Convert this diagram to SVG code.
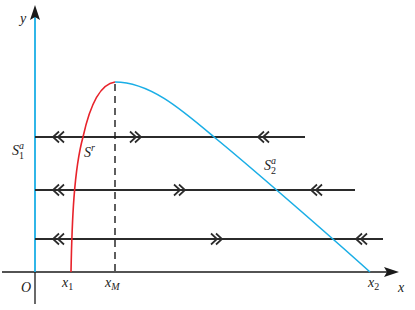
<svg xmlns="http://www.w3.org/2000/svg" width="415" height="310" viewBox="0 0 415 310">
<style>
.ax{stroke:#1a1a1a;stroke-width:1.3;fill:none}
.fl{stroke:#2b2b2b;stroke-width:2;fill:none}
.ch{stroke:#2b2b2b;stroke-width:1.7;fill:none}
.blue{stroke:#1aaee6;stroke-width:1.6;fill:none}
.red{stroke:#e8232b;stroke-width:1.6;fill:none}
.dash{stroke:#1a1a1a;stroke-width:1.4;stroke-dasharray:7,5;fill:none}
.t{font-family:"Liberation Serif",serif;font-style:italic;font-size:14px;fill:#222}
.s{font-size:10px}
</style>
<defs>
<symbol id="cl" overflow="visible"><path class="ch" d="M6,-5.5 L0,0 L6,5.5 M11,-5.5 L5,0 L11,5.5"/></symbol>
<symbol id="cr" overflow="visible"><path class="ch" d="M-6,-5.5 L0,0 L-6,5.5 M-11,-5.5 L-5,0 L-11,5.5"/></symbol>
</defs>
<g id="axes">
<line class="ax" x1="2" y1="272" x2="390" y2="272"/>
<path d="M399,272 L384,267 L387,272 L384,277 Z" fill="#1a1a1a"/>
<line class="ax" x1="35" y1="272" x2="35" y2="304"/>
<line x1="35" y1="272" x2="35" y2="15" stroke="#1aaee6" stroke-width="1.8"/>
<path d="M35,5 L30,20 L35,17 L40,20 Z" fill="#1a1a1a"/>
</g>
<g id="connectors">
<line class="fl" x1="35" y1="137" x2="305" y2="137"/>
<line class="fl" x1="35" y1="190" x2="355" y2="190"/>
<line class="fl" x1="35" y1="239" x2="383" y2="239"/>
<use href="#cl" x="53" y="137"/>
<use href="#cr" x="141" y="137"/>
<use href="#cl" x="258" y="137"/>
<use href="#cl" x="53" y="190"/>
<use href="#cr" x="185" y="190"/>
<use href="#cl" x="311" y="190"/>
<use href="#cl" x="53" y="239"/>
<use href="#cr" x="222" y="239"/>
<use href="#cl" x="356" y="239"/>
</g>
<g id="curves">
<line class="dash" x1="115" y1="84" x2="115" y2="272"/>
<path class="red" d="M71,272 C72,220 74,170 83,137 C90,105 100,84 115,82"/>
<path class="blue" d="M115,82 C150,82 182,110 214,137 C246,163 330,236 370,272"/>
</g>
<g id="labels">
<text class="t" x="20" y="23">y</text>
<text class="t" x="21" y="292">O</text>
<text class="t" x="62" y="287">x<tspan class="s" dy="3" font-style="normal">1</tspan></text>
<text class="t" x="105" y="287">x<tspan class="s" dy="3">M</tspan></text>
<text class="t" x="368" y="287">x<tspan class="s" dy="3" font-style="normal">2</tspan></text>
<text class="t" x="398" y="292">x</text>
<text class="t" x="12" y="155">S<tspan class="s" dy="-6">a</tspan><tspan class="s" dx="-5" dy="10" font-style="normal">1</tspan></text>
<text class="t" x="84" y="157">S<tspan class="s" dy="-6">r</tspan></text>
<text class="t" x="264" y="170">S<tspan class="s" dy="-6">a</tspan><tspan class="s" dx="-5" dy="10" font-style="normal">2</tspan></text>
</g>
</svg>
